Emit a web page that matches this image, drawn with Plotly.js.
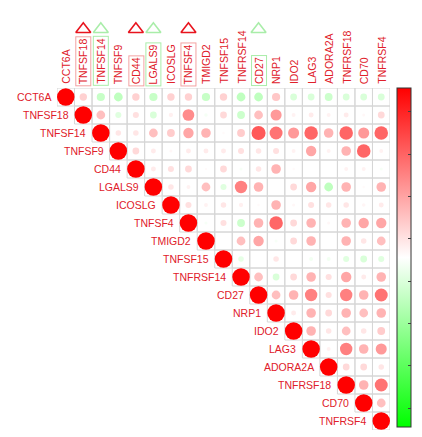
<!DOCTYPE html>
<html><head><meta charset="utf-8">
<script src="https://cdn.plot.ly/plotly-3.0.1.min.js"></script>
<style>body{margin:0;background:#fff}#chart{width:422px;height:437px}</style>
</head><body><div id="chart"></div>
<script>
const genes = ['CCT6A','TNFSF18','TNFSF14','TNFSF9','CD44','LGALS9','ICOSLG','TNFSF4','TMIGD2','TNFSF15','TNFRSF14','CD27','NRP1','IDO2','LAG3','ADORA2A','TNFRSF18','CD70','TNFRSF4'];
// upper-triangle correlations, each row starts at the diagonal
const corrUpper = [
  [1, 0.18, -0.22, -0.25, 0.18, -0.22, 0.18, 0.18, -0.22, 0.18, -0.25, -0.25, 0.22, -0.15, -0.15, -0.2, -0.15, -0.15, -0.15],
  [1, 0.25, -0.12, 0.12, -0.15, 0.06, 0.45, -0.04, 0.15, -0.2, 0.25, 0.4, 0.05, 0.08, 0.05, 0.08, 0.03, 0.15],
  [1, 0.1, 0.1, 0.25, 0.2, 0.35, 0.3, 0.02, 0.2, 0.65, 0.55, 0.4, 0.6, 0.3, 0.6, 0.4, 0.6],
  [1, 0.15, 0.08, 0.03, 0.08, 0.08, 0.08, 0.12, 0.1, 0.12, 0.05, 0.35, 0.05, 0.3, 0.6, 0.05],
  [1, 0.08, 0.12, 0.15, 0.02, 0.15, -0.03, 0.1, 0.3, 0.02, 0.0, 0.0, 0.05, 0.05, -0.03],
  [1, 0.1, 0.05, 0.25, -0.12, 0.5, 0.3, 0.0, 0.15, 0.35, -0.25, 0.3, 0.02, 0.3],
  [1, 0.12, 0.05, 0.1, 0.06, 0.02, 0.3, 0.03, 0.12, 0.1, 0.1, 0.04, 0.08],
  [1, -0.03, 0.12, -0.2, 0.3, 0.6, 0.15, 0.3, 0.03, 0.3, 0.35, 0.35],
  [1, 0.0, 0.25, 0.35, -0.03, 0.15, 0.3, 0.0, 0.3, 0.1, 0.25],
  [1, -0.1, 0.0, 0.1, 0.0, -0.05, -0.05, -0.12, -0.15, -0.12],
  [1, 0.25, -0.15, 0.15, 0.3, 0.12, 0.35, 0.08, 0.3],
  [1, 0.25, 0.3, 0.5, 0.12, 0.5, 0.3, 0.55],
  [1, 0.08, 0.3, 0.15, 0.3, 0.25, 0.3],
  [1, 0.3, 0.1, 0.25, 0.1, 0.2],
  [1, 0.05, 0.5, 0.3, 0.4],
  [1, 0.15, 0.15, 0.1],
  [1, 0.3, 0.55],
  [1, 0.25],
  [1]
];
const redMarked = ['TNFSF18','CD44','TNFSF4'];
const greenMarked = ['TNFSF14','LGALS9','CD27'];
const barTicks = [0.86,0.61,0.36,0.11,-0.14,-0.39,-0.64,-0.89];

const N = genes.length;
const MAXD = 17.5, TRI_Y = 0.73, GRID_TOP = 342/420;
const textRed = '#e0202a';
const xs=[], ys=[], cs=[], ss=[];
corrUpper.forEach((row,i)=>row.forEach((r,k)=>{
  const j=i+k; xs.push(j); ys.push(i); cs.push(r); ss.push(MAXD*Math.sqrt(Math.abs(r)));
}));

const shapes=[];
for(let i=0;i<N;i++) for(let j=i;j<N;j++){
  shapes.push({type:'rect',xref:'x',yref:'y',x0:j-0.5,x1:j+0.5,y0:i-0.5,y1:i+0.5,
    line:{color:'#d6d6d6',width:1},fillcolor:'rgba(0,0,0,0)',layer:'below'});
}

const font={family:'Liberation Sans, Arial, sans-serif',size:10.5,color:textRed};
const ann=[];
genes.forEach((g,i)=>{
  ann.push({x:i-0.5,y:i,xref:'x',yref:'y',text:g,showarrow:false,xanchor:'right',yanchor:'middle',xshift:-4,font:font});
  let bc='rgba(0,0,0,0)';
  if(redMarked.includes(g)) bc='#f3a3a3';
  if(greenMarked.includes(g)) bc='#a9eda9';
  ann.push({x:i,y:GRID_TOP,xref:'x',yref:'paper',text:g,showarrow:false,textangle:-90,xanchor:'center',yanchor:'bottom',
    yshift:2,font:font,bordercolor:bc,borderwidth:1,borderpad:1});
});

const traces=[
 {type:'scatter',mode:'markers',x:xs,y:ys,hoverinfo:'skip',cliponaxis:false,
  marker:{size:ss,sizemode:'diameter',opacity:1,color:cs,cmin:-1,cmax:1,
   colorscale:[[0,'#00FF00'],[0.5,'#FFFFFF'],[1,'#FF0000']],line:{width:0},
   showscale:true,colorbar:{x:1.0206,xanchor:'left',xpad:0,ypad:0,y:GRID_TOP,yanchor:'top',
    lenmode:'pixels',len:339,thickness:14,outlinecolor:'#333',outlinewidth:1,
    tickmode:'array',tickvals:barTicks,ticks:'inside',ticklen:3,tickcolor:'#444',showticklabels:false}}},
 {type:'scatter',mode:'markers',xaxis:'x',yaxis:'y2',x:redMarked.map(g=>genes.indexOf(g)),y:redMarked.map(()=>TRI_Y),cliponaxis:false,hoverinfo:'skip',
  marker:{symbol:'triangle-up-open',size:13,opacity:1,color:'#e8141e',line:{width:1.6,color:'#e8141e'}}},
 {type:'scatter',mode:'markers',xaxis:'x',yaxis:'y2',x:greenMarked.map(g=>genes.indexOf(g)),y:greenMarked.map(()=>TRI_Y),cliponaxis:false,hoverinfo:'skip',
  marker:{symbol:'triangle-up-open',size:13,opacity:1,color:'#a9eda9',line:{width:1.6,color:'#a9eda9'}}}
];

const layout={width:422,height:437,margin:{l:57,r:26,t:10,b:7},showlegend:false,
 paper_bgcolor:'#fff',plot_bgcolor:'rgba(0,0,0,0)',
 xaxis:{range:[-0.5,N-0.5],visible:false,fixedrange:true},
 yaxis:{range:[N-0.5,-0.5],domain:[0,GRID_TOP],visible:false,fixedrange:true},
 yaxis2:{range:[0,1],domain:[0.83,1],anchor:'x',visible:false,fixedrange:true},
 shapes:shapes,annotations:ann};
Plotly.newPlot('chart',traces,layout,{displayModeBar:false,staticPlot:true});
</script></body></html>
